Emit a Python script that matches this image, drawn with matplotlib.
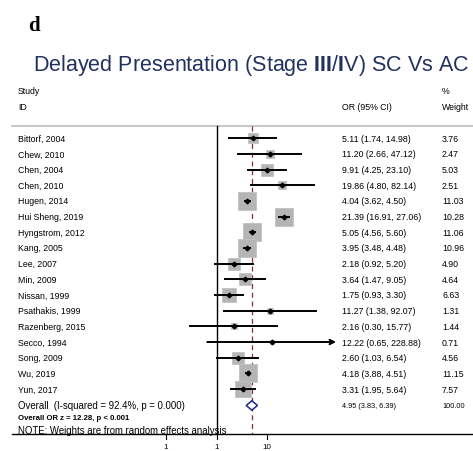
import numpy as np
import matplotlib
matplotlib.use("Agg")
import matplotlib.pyplot as plt

plt.rcParams['font.family'] = ['Liberation Sans', 'DejaVu Sans']
plt.rcParams['mathtext.fontset'] = 'custom'
plt.rcParams['mathtext.rm'] = 'Liberation Sans'
plt.rcParams['mathtext.bf'] = 'Liberation Sans:bold'

# study data
studies = ["Bittorf, 2004", "Chew, 2010", "Chen, 2004", "Chen, 2010", "Hugen, 2014",
           "Hui Sheng, 2019", "Hyngstrom, 2012", "Kang, 2005", "Lee, 2007", "Min, 2009",
           "Nissan, 1999", "Psathakis, 1999", "Razenberg, 2015", "Secco, 1994",
           "Song, 2009", "Wu, 2019", "Yun, 2017"]
odds = [5.11, 11.20, 9.91, 19.86, 4.04, 21.39, 5.05, 3.95, 2.18, 3.64,
        1.75, 11.27, 2.16, 12.22, 2.60, 4.18, 3.31]
lower = [1.74, 2.66, 4.25, 4.80, 3.62, 16.91, 4.56, 3.48, 0.92, 1.47,
         0.93, 1.38, 0.30, 0.65, 1.03, 3.88, 1.95]
upper = [14.98, 47.12, 23.10, 82.14, 4.50, 27.06, 5.60, 4.48, 5.20, 9.05,
         3.30, 92.07, 15.77, 228.88, 6.54, 4.51, 5.64]
weights = [3.76, 2.47, 5.03, 2.51, 11.03, 10.28, 11.06, 10.96, 4.90, 4.64,
           6.63, 1.31, 1.44, 0.71, 4.56, 11.15, 7.57]
pooled = [4.95, 3.83, 6.39]
ticks = [0.1, 1, 10]
tick_labels = ["1", "1", "10"]

W, H = 473, 452
fig = plt.figure(figsize=(W / 100, H / 100), dpi=100)
ax = fig.add_axes([0, 0, 1, 1])
ax.set_xscale('log')
# log axis: 1 at 216.7 px, one decade = 50.6 px
x0, dec = 216.7, 50.6
ax.set_xlim(10 ** (-x0 / dec), 10 ** ((W - x0) / dec))
# rows: first study at 139.3 px, 15.67 px apart
y0, step = 139.3, 15.67
ax.set_ylim((H - y0) / step, -y0 / step)
ax.axis('off')

tx = ax.get_yaxis_transform()  # x in axes fraction, y in rows
def fx(px):
    return px / W

rows = np.arange(len(studies))
row_pool = 17.05
row_axis = 18.9
row_top = -0.8

# title and panel letter
fig.text(28 / W, 1 - 26 / H, "d", family='Liberation Serif', weight='bold',
         fontsize=15, va='center', ha='left')
fig.text(33 / W, 1 - 65 / H,
         r"Delayed Presentation (Stage $\mathbf{III}$/$\mathbf{I}$V) SC Vs AC",
         fontsize=15.5, color='#22315f', va='center', ha='left')

# headers
fs = 6.3
ax.text(fx(18), -3.02, "Study", fontsize=fs, va='center', transform=tx)
ax.text(fx(18), -2.0, "ID", fontsize=fs, va='center', transform=tx)
ax.text(fx(341.5), -2.0, "OR (95% CI)", fontsize=fs, va='center', transform=tx)
ax.text(fx(442), -3.02, "%", fontsize=fs, va='center', transform=tx)
ax.text(fx(442), -2.0, "Weight", fontsize=fs, va='center', transform=tx)
ax.plot([fx(12), 1], [row_top, row_top], color='#bdbdbd', lw=1.2, transform=tx)

# reference lines
ax.plot([1, 1], [row_top, row_axis], color='black', lw=1.0)
ax.plot([pooled[0], pooled[0]], [row_top, row_axis - 0.05], color='#8b2b2b',
        lw=0.9, dashes=(4, 3))

# study boxes, CIs and point estimates
side = 5.5 * np.sqrt(weights) * 0.72
for i in rows:
    ax.plot(odds[i], i, marker='s', ms=side[i], color='#b5b5b5',
            mec='#c2c2c2', mew=0.6, zorder=2)
    if i == 13:
        ax.annotate("", xy=(upper[i], i), xytext=(lower[i], i),
                    arrowprops=dict(arrowstyle='->', lw=1.4, color='black',
                                    shrinkA=0, shrinkB=0, mutation_scale=8),
                    zorder=3)
    else:
        ax.plot([lower[i], upper[i]], [i, i], color='black', lw=1.4, zorder=3)
    ax.plot(odds[i], i, marker='D', ms=2.4, color='black', zorder=4)
    ax.text(fx(18), i, studies[i], fontsize=fs, va='center', transform=tx)
    ax.text(fx(341.5), i, f"{odds[i]:.2f} ({lower[i]:.2f}, {upper[i]:.2f})",
            fontsize=fs, va='center', transform=tx)
    ax.text(fx(442), i, f"{weights[i]:.2f}", fontsize=fs, va='center', transform=tx)

# pooled diamond
dh = 0.3
ax.fill([pooled[1], pooled[0], pooled[2], pooled[0]],
        [row_pool, row_pool - dh, row_pool, row_pool + dh],
        facecolor='white', edgecolor='#1a2a8a', lw=1.1, zorder=4)
ax.text(fx(18), row_pool, "Overall  (I-squared = 92.4%, p = 0.000)", fontsize=6.9,
        va='center', transform=tx)
ax.text(fx(341.5), row_pool, "4.95 (3.83, 6.39)", fontsize=5.3, va='center', transform=tx)
ax.text(fx(442), row_pool, "100.00", fontsize=5.3, va='center', transform=tx)
ax.text(fx(18), 17.8, "Overall OR z = 12.28, p < 0.001", fontsize=5.6,
        weight='bold', va='center', transform=tx)
ax.text(fx(18), 18.6, "NOTE: Weights are from random effects analysis", fontsize=6.9,
        va='center', transform=tx)

# bottom axis
ax.plot([fx(12), 1], [row_axis, row_axis], color='black', lw=1.0, transform=tx)
for t, lab in zip(ticks, tick_labels):
    ax.plot([t, t], [row_axis, row_axis + 0.3], color='black', lw=0.8)
    ax.text(t, 19.88, lab, fontsize=5.8, ha='center', va='bottom')

fig.savefig("out.png", dpi=100)
